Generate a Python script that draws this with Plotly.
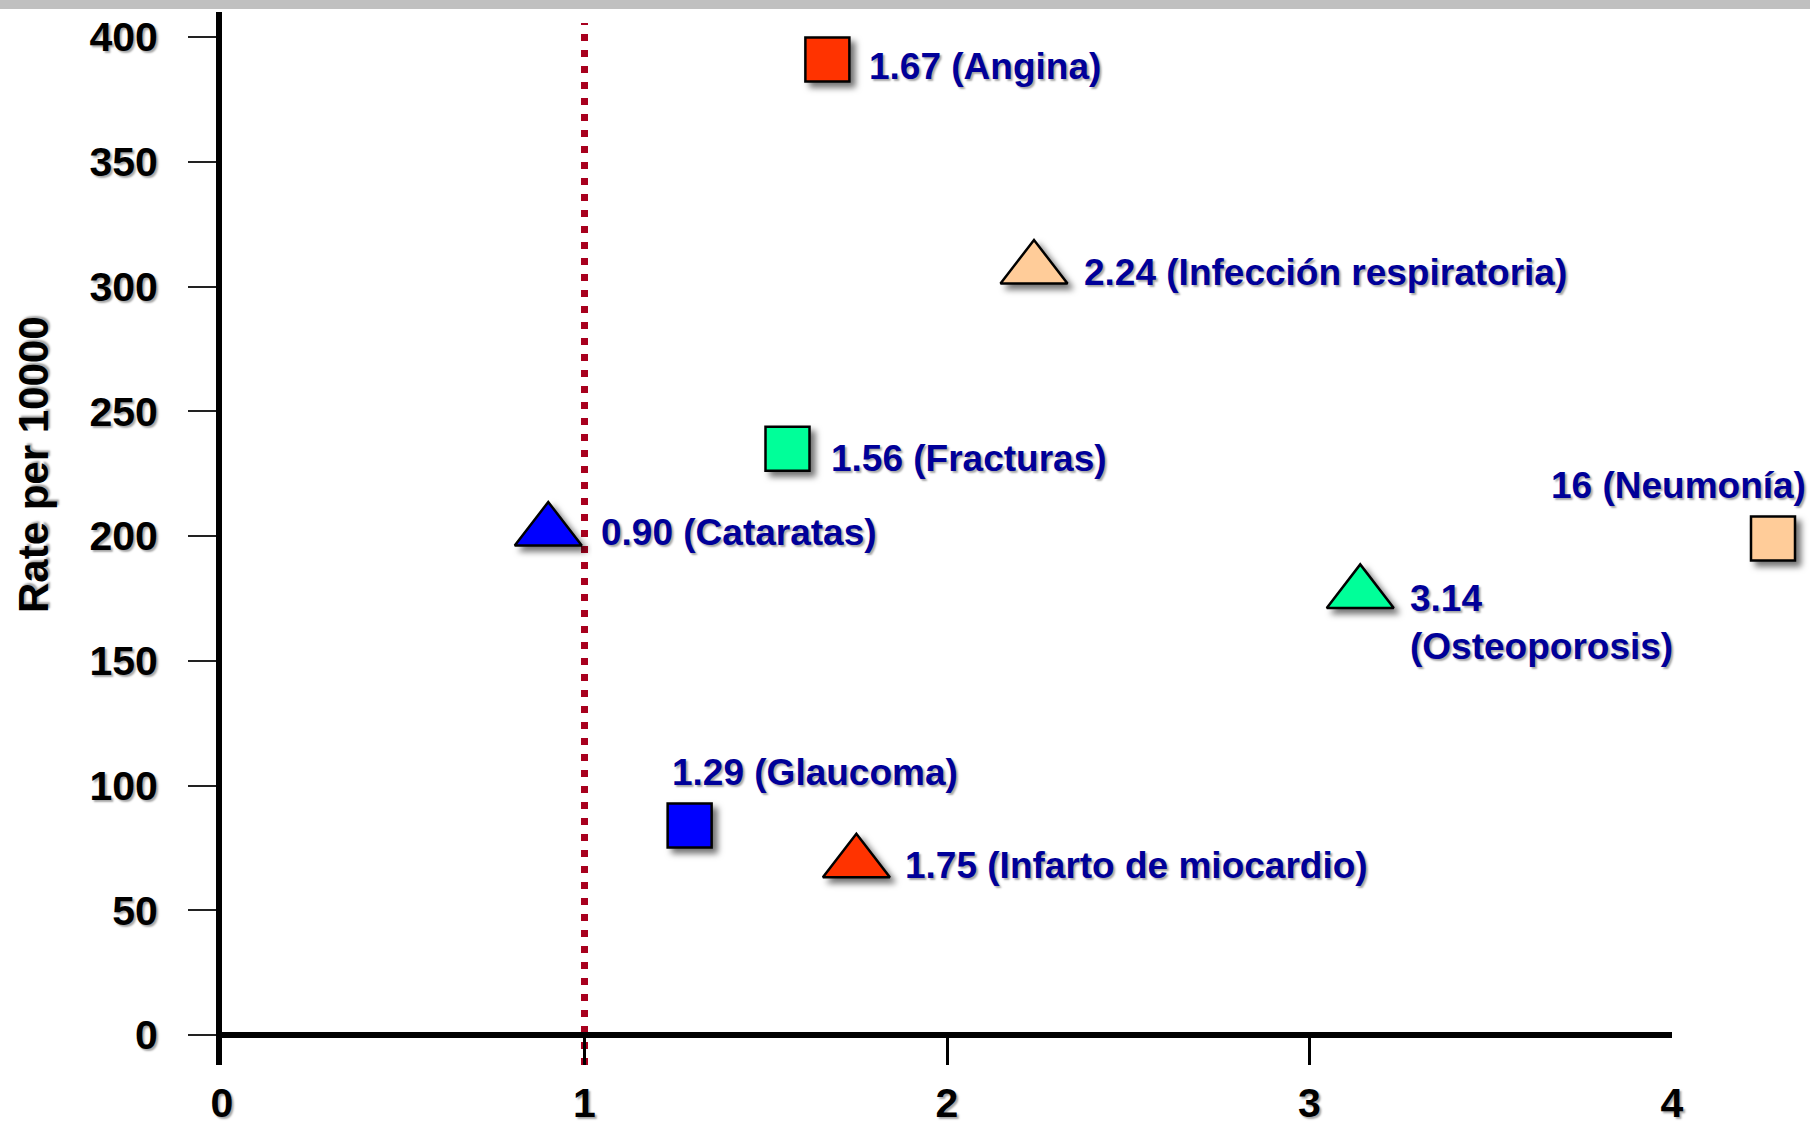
import plotly.graph_objects as go

# ---- data -------------------------------------------------------------
conditions = ["Angina", "Infección respiratoria", "Fracturas", "Cataratas",
              "Osteoporosis", "Neumonía", "Glaucoma", "Infarto de miocardio"]
ratios = [1.67, 2.24, 1.56, 0.90, 3.14, 16, 1.29, 1.75]
rates = [391, 307, 235, 202, 177, 199, 84, 69]
symbols = ["square", "triangle-up", "square", "triangle-up",
           "triangle-up", "square", "square", "triangle-up"]
colors = ["#FF3300", "#FFCC99", "#00FF99", "#0000FF",
          "#00FF99", "#FFCC99", "#0000FF", "#FF3300"]

x_ticks = [0, 1, 2, 3, 4]
y_ticks = [0, 50, 100, 150, 200, 250, 300, 350, 400]
reference_ratio = 1
y_title = "Rate per 10000"

# ---- styling ----------------------------------------------------------
W, H = 1810, 1125
M_L, M_R, M_T, M_B = 222, 0, 12, 60
PLOT_W = W - M_L - M_R
PLOT_H = H - M_T - M_B
MAIN_RIGHT_PX = 1672          # pixel where the x axis ends
OFF_LEFT_PX = 1736            # start of the off-scale strip

FONT = "Liberation Sans, Arial, Helvetica, sans-serif"
LABEL_COLOR = "#000099"
TEXT_SHADOW = "2px 2px 2px rgba(0,0,0,0.35)"
SYMBOL_SIZE = {"square": 44, "triangle-up": 58}

# label placement around each marker (pixel shifts)
label_style = {
    "Angina": dict(xanchor="left", xshift=40, yshift=-7),
    "Infección respiratoria": dict(xanchor="left", xshift=48, yshift=-3),
    "Fracturas": dict(xanchor="left", xshift=41, yshift=-10),
    "Cataratas": dict(xanchor="left", xshift=44, yshift=-1, bg=True),
    "Osteoporosis": dict(xanchor="left", xshift=48, yshift=17,
                         yanchor="top", wrap=True),
    "Neumonía": dict(xanchor="right", xshift=35, yshift=53),
    "Glaucoma": dict(xanchor="left", xshift=-20, yshift=53),
    "Infarto de miocardio": dict(xanchor="left", xshift=47, yshift=-3),
}


def fmt_ratio(r):
    return f"{r:.0f}" if float(r).is_integer() else f"{r:.2f}"


x_max = x_ticks[-1]
inside = [i for i, r in enumerate(ratios) if r <= x_max]
outside = [i for i, r in enumerate(ratios) if r > x_max]

# y range: 0 sits at 1035px, 400 at 37px
px_per_unit = (1035 - 37) / 400
y_lo = -(M_T + PLOT_H - 1035) / px_per_unit
y_hi = 400 + (37 - M_T) / px_per_unit


def marker_trace(idx, xa, ya):
    return go.Scatter(
        x=[ratios[i] for i in idx],
        y=[rates[i] for i in idx],
        xaxis=xa, yaxis=ya,
        mode="markers",
        marker=dict(symbol=[symbols[i] for i in idx],
                    color=[colors[i] for i in idx],
                    size=[SYMBOL_SIZE[symbols[i]] for i in idx],
                    opacity=1,
                    line=dict(color="black", width=2.5)),
        cliponaxis=False,
        hoverinfo="skip",
        showlegend=False,
    )


fig = go.Figure()
fig.add_trace(marker_trace(inside, "x", "y"))
fig.add_trace(marker_trace(outside, "x2", "y2"))

annotations = []
for i, name in enumerate(conditions):
    st = label_style[name]
    sep = "<br>" if st.get("wrap") else " "
    on_main = ratios[i] <= x_max
    annotations.append(dict(
        x=ratios[i], y=rates[i],
        xref="x" if on_main else "x2", yref="y" if on_main else "y2",
        text=f"{fmt_ratio(ratios[i])}{sep}({name})",
        showarrow=False, align="left",
        xanchor=st["xanchor"], yanchor=st.get("yanchor", "middle"),
        xshift=st["xshift"], yshift=st["yshift"],
        bgcolor="white" if st.get("bg") else "rgba(0,0,0,0)",
        borderpad=8 if st.get("bg") else 1,
        font=dict(family=FONT, size=37, color=LABEL_COLOR,
                  weight="bold", shadow=TEXT_SHADOW),
    ))

annotations.append(dict(
    x=(33 - M_L) / PLOT_W, y=(M_T + PLOT_H - 465) / PLOT_H,
    xref="paper", yref="paper", text=y_title, textangle=-90,
    showarrow=False, xanchor="center", yanchor="middle",
    font=dict(family=FONT, size=42, color="black", weight="bold",
              shadow=TEXT_SHADOW),
))

tick_font = dict(family=FONT, size=41, color="black", weight="bold",
                 shadow=TEXT_SHADOW)

fig.update_layout(
    width=W, height=H, autosize=False,
    margin=dict(l=M_L, r=M_R, t=M_T, b=M_B, pad=0),
    paper_bgcolor="white", plot_bgcolor="white",
    template="none",
    showlegend=False,
    xaxis=dict(domain=[0, (MAIN_RIGHT_PX - M_L) / PLOT_W],
               range=[0, x_max], tickvals=x_ticks,
               ticks="inside", ticklen=30, tickwidth=3, tickcolor="black",
               showline=False, showgrid=False, zeroline=False,
               tickfont=tick_font, ticklabelstandoff=10,
               automargin=False, anchor="y"),
    yaxis=dict(domain=[0, 1], range=[y_lo, y_hi], tickvals=y_ticks,
               ticks="outside", ticklen=28, tickwidth=2, tickcolor="#222",
               showline=True, linewidth=6, linecolor="black",
               zeroline=True, zerolinewidth=6, zerolinecolor="black",
               showgrid=False, tickfont=tick_font, ticklabelstandoff=22,
               automargin=False, anchor="x"),
    xaxis2=dict(domain=[(OFF_LEFT_PX - M_L) / PLOT_W, 1], range=[15, 17],
                visible=False, anchor="y2"),
    yaxis2=dict(domain=[0, 1], range=[y_lo, y_hi], visible=False,
                anchor="x2"),
    annotations=annotations,
    shapes=[
        # grey band across the top
        dict(type="rect", xref="paper", yref="paper",
             x0=-M_L / PLOT_W, x1=1, y0=(PLOT_H + M_T - 9) / PLOT_H,
             y1=(PLOT_H + M_T) / PLOT_H,
             fillcolor="#C0C0C0", line=dict(width=0), layer="above"),
        # reference line at ratio = 1
        dict(type="line", xref="x", yref="paper",
             x0=reference_ratio, x1=reference_ratio,
             y0=0, y1=(PLOT_H + M_T - 23) / PLOT_H,
             line=dict(color="#A8001E", width=7, dash="7px,9px"),
             layer="below"),
    ],
)

shadow_js = (
    "var s=document.createElement('style');"
    "s.textContent='.scatterlayer path.point{filter:drop-shadow(5px 5px 3px rgba(0,0,0,0.55));}';"
    "document.head.appendChild(s);"
)

fig.write_html("out.html", config={"displayModeBar": False},
               post_script=shadow_js)
